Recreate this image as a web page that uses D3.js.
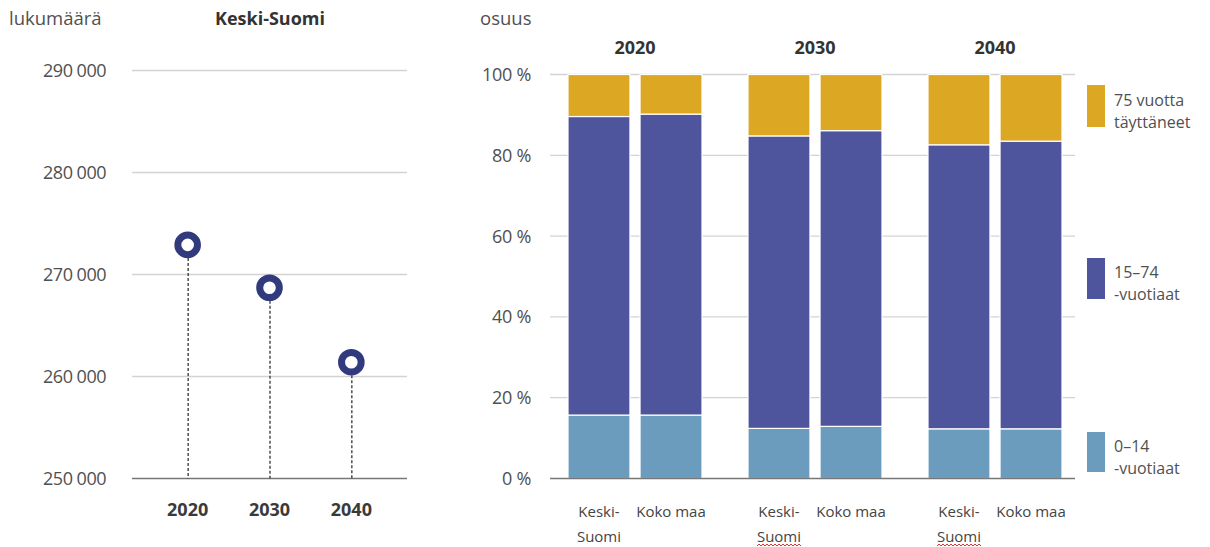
<!DOCTYPE html>
<html><head><meta charset="utf-8">
<script src="https://cdn.jsdelivr.net/npm/d3@7"></script>
<style>
html,body{margin:0;padding:0;background:#fff;}
svg{display:block;font-family:"Open Sans","Noto Sans",sans-serif;}
</style></head>
<body>
<svg id="chart" width="1210" height="547"></svg>
<script>
// ---- data ----
const years = ["2020", "2030", "2040"];
const population = [272900, 268700, 261400];
const popTicks = [250000, 260000, 270000, 280000, 290000];

const regions = ["Keski-Suomi", "Koko maa"];
const regionLabels = [["Keski-", "Suomi"], ["Koko maa"]];
const ageGroups = ["0–14 -vuotiaat", "15–74 -vuotiaat", "75 vuotta täyttäneet"];
const legendLines = [["0–14", "-vuotiaat"], ["15–74", "-vuotiaat"], ["75 vuotta", "täyttäneet"]];
// shares (%) per year, per region: [Keski-Suomi, Koko maa]
const share0_14  = [[15.7, 15.7], [12.4, 12.9], [12.3, 12.3]];
const share15_74 = [[73.9, 74.5], [72.4, 73.2], [70.3, 71.2]];
const share75    = [[10.4, 9.8], [15.2, 13.9], [17.4, 16.5]];
const pctTicks = [0, 20, 40, 60, 80, 100];

const colors = ["#6b9bbd", "#4e559c", "#dca722"];

const svg = d3.select("#chart");
const textCol = "#505050";
const fs = 18;

// ---- left panel ----
const yL = d3.scaleLinear().domain([250000, 290000]).range([478.5, 70.5]);
const xL = d3.scalePoint().domain(years).range([132, 407]).padding(0.68);
const fmt = v => d3.format(",")(v).replace(/,/g, " ");

const gL = svg.append("g");
gL.selectAll("line.grid").data(popTicks.slice(1)).join("line")
  .attr("x1", 132).attr("x2", 407)
  .attr("y1", d => yL(d)).attr("y2", d => yL(d))
  .attr("stroke", "#d3d3d3").attr("stroke-width", 1.3);
gL.append("line").attr("x1", 132).attr("x2", 407)
  .attr("y1", yL(250000)).attr("y2", yL(250000))
  .attr("stroke", "#777").attr("stroke-width", 1.5);
gL.selectAll("text.yt").data(popTicks).join("text")
  .attr("x", 106).attr("y", d => yL(d) + 6.5)
  .attr("text-anchor", "end").attr("font-size", fs).attr("fill", textCol)
  .attr("letter-spacing", -0.5)
  .text(fmt);
gL.selectAll("text.xt").data(years).join("text")
  .attr("x", d => xL(d)).attr("y", 516)
  .attr("text-anchor", "middle").attr("font-size", fs).attr("font-weight", "bold")
  .attr("fill", "#3a3a3a").text(d => d);
const pts = years.map((y, i) => ({year: y, v: population[i]}));
gL.selectAll("line.stem").data(pts).join("line")
  .attr("x1", d => xL(d.year) + 0.5).attr("x2", d => xL(d.year) + 0.5)
  .attr("y1", d => yL(d.v) + 13).attr("y2", yL(250000))
  .attr("stroke", "#333").attr("stroke-width", 1.3).attr("stroke-dasharray", "3,2");
gL.selectAll("circle").data(pts).join("circle")
  .attr("cx", d => xL(d.year)).attr("cy", d => yL(d.v)).attr("r", 9.8)
  .attr("fill", "#fff").attr("stroke", "#313a7d").attr("stroke-width", 7);
svg.append("text").attr("x", 9).attr("y", 25).attr("font-size", 18.5)
  .attr("fill", textCol).text("lukumäärä");
svg.append("text").attr("x", 270).attr("y", 25).attr("font-size", fs)
  .attr("font-weight", "bold").attr("text-anchor", "middle").attr("fill", "#333")
  .text("Keski-Suomi");

// ---- right panel ----
const yR = d3.scaleLinear().domain([0, 100]).range([478.5, 74.5]);
const x0 = d3.scaleBand().domain(years).range([545, 1085]);
const innerW = 134;
const x1 = d3.scaleBand().domain(regions).range([0, innerW]).paddingInner(0.14);
const gR = svg.append("g");
gR.selectAll("line.grid").data(pctTicks.slice(1)).join("line")
  .attr("x1", 550).attr("x2", 1075)
  .attr("y1", d => yR(d)).attr("y2", d => yR(d))
  .attr("stroke", "#d3d3d3").attr("stroke-width", 1.3);
gR.selectAll("text.yt").data(pctTicks).join("text")
  .attr("x", 531).attr("y", d => yR(d) + 6.5)
  .attr("text-anchor", "end").attr("font-size", fs).attr("fill", textCol)
  .attr("letter-spacing", -0.3)
  .text(d => d + " %");
svg.append("text").attr("x", 480).attr("y", 25).attr("font-size", 18.5)
  .attr("fill", textCol).text("osuus");

const shares = [share0_14, share15_74, share75];
const bars = [];
years.forEach((yr, yi) => {
  regions.forEach((rg, ri) => {
    let cum = 0;
    ageGroups.forEach((ag, ai) => {
      const v = shares[ai][yi][ri];
      bars.push({yr, rg, ai, y0: cum, y1: cum + v});
      cum += v;
    });
  });
});
const gx = yr => x0(yr) + (x0.bandwidth() - innerW) / 2;
gR.selectAll("rect.bar").data(bars).join("rect")
  .attr("x", d => gx(d.yr) + x1(d.rg))
  .attr("width", x1.bandwidth())
  .attr("y", d => yR(Math.min(d.y1, 100)))
  .attr("height", d => yR(d.y0) - yR(Math.min(d.y1, 100)))
  .attr("fill", d => colors[d.ai])
  .attr("stroke", "#fff").attr("stroke-width", 1.2);
gR.append("line").attr("x1", 550).attr("x2", 1075)
  .attr("y1", yR(0)).attr("y2", yR(0))
  .attr("stroke", "#777").attr("stroke-width", 1.5);
// year headers
gR.selectAll("text.yh").data(years).join("text")
  .attr("x", d => x0(d) + x0.bandwidth() / 2).attr("y", 54)
  .attr("text-anchor", "middle").attr("font-size", fs).attr("font-weight", "bold")
  .attr("fill", "#333").text(d => d);
// region labels
years.forEach((yr, yi) => {
  regions.forEach((rg, ri) => {
    const cx = gx(yr) + x1(rg) + x1.bandwidth() / 2;
    const t = gR.append("text")
      .attr("x", cx).attr("y", 517).attr("text-anchor", "middle")
      .attr("font-size", 15).attr("fill", "#444");
    regionLabels[ri].forEach((ln, li) => {
      t.append("tspan").attr("x", cx).attr("dy", li === 0 ? 0 : 25).text(ln);
    });
    // spell-check squiggle seen under "Suomi" in the later groups
    if (ri === 0 && yi > 0) {
      const w = 44, x = cx - w / 2, y = 546;
      let p = `M${x},${y}`;
      for (let k = 0; k < w; k += 4) p += ` l2,-2 l2,2`;
      gR.append("path").attr("d", p).attr("fill", "none")
        .attr("stroke", "#e03030").attr("stroke-width", 1);
    }
  });
});
// legend
const legTop = [432, 258, 85];
const legH = [40, 41, 42];
const gLeg = svg.append("g");
ageGroups.forEach((ag, i) => {
  gLeg.append("rect").attr("x", 1087).attr("y", legTop[i])
    .attr("width", 18).attr("height", legH[i]).attr("fill", colors[i]);
  const c = legTop[i] + legH[i] / 2;
  legendLines[i].forEach((ln, li) => {
    gLeg.append("text").attr("font-size", 16).attr("fill", textCol)
      .attr("x", 1114).attr("y", c - 0.5 + li * 22).text(ln);
  });
});
</script>
</body></html>
